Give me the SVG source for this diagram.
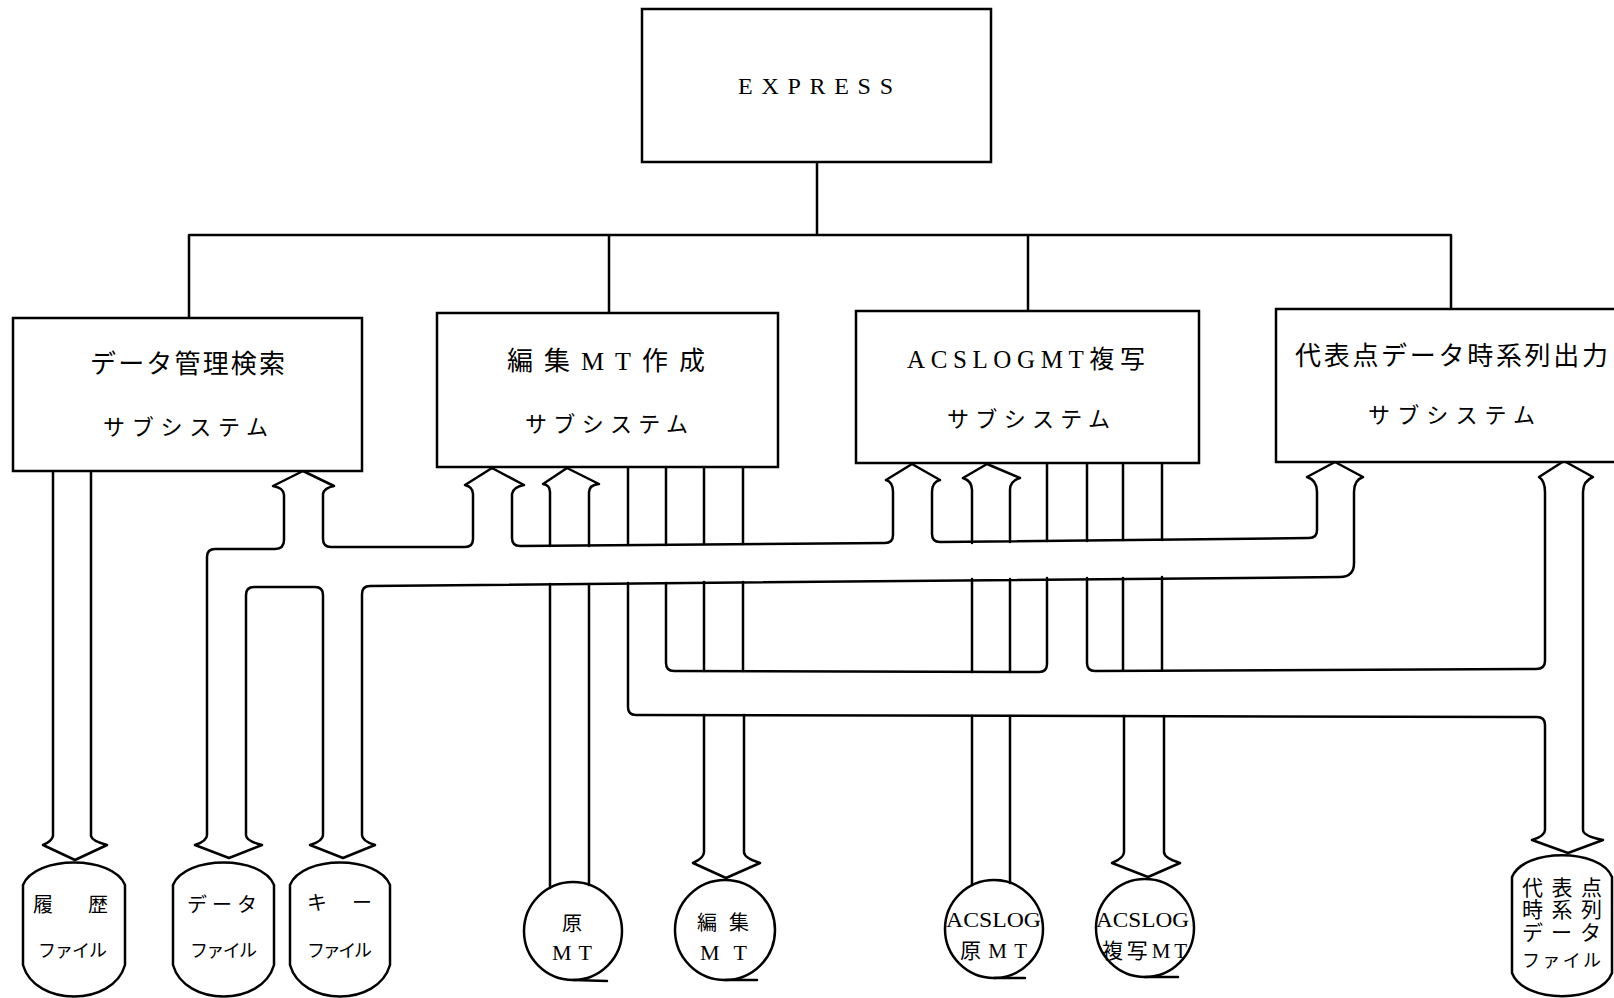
<svg xmlns="http://www.w3.org/2000/svg" width="1614" height="998" viewBox="0 0 1614 998">
<style>
.ln{fill:none;stroke:#000;stroke-width:2.5;stroke-linejoin:round;stroke-linecap:round}
.bx{fill:#fff;stroke:#000;stroke-width:2.5}
.t{font-family:"Liberation Serif","Noto Sans CJK JP",serif;fill:#000}
.j{font-family:"Noto Sans CJK JP",sans-serif;fill:#000}
</style>
<rect width="1614" height="998" fill="#fff"/>
<g id="connectors">
  <!-- tree from EXPRESS -->
  <path class="ln" d="M817,162 L817,235 M189,235 L1451,235 M189,235 L189,318 M609,235 L609,313 M1028,235 L1028,311 M1451,235 L1451,309"/>
  <!-- rireki arrow -->
  <path class="ln" d="M53,472 L53,836 Q52,841 43,845 L75,860 L107,845 Q92,841 91,836 L91,472"/>
  <!-- band 1 outline -->
  <path class="ln" d="M303,471 L273,486 Q284,488 284,495 L284,540 Q284,549 275,549 L215,549 Q207,549 207,557 L207,835 Q207,841 195,845 L229,858 L262,845 Q246,841 246,835 L246,595 Q246,587 254,587 L315,587 Q323,587 323,595 L323,835 Q323,841 310,845 L343,858 L375,845 Q362,841 362,835 L362,594 Q362,586 370,586 L1340,577 Q1354,577 1354,563 L1354,492 Q1354,480 1363,477 L1335,462 L1307,477 Q1317,480 1317,492 L1317,530 Q1317,538 1309,538 L940,542 Q932,542 932,534 L932,492 Q932,482 940,480 L912,464 L886,480 Q893,482 893,492 L893,535 Q893,543 885,543 L520,546 Q512,546 512,538 L512,494 Q513,487 524,485 L492,468 L465,485 Q473,487 473,494 L473,539 Q473,547 465,547 L331,547 Q323,547 323,539 L323,494 Q324,488 334,486 Z"/>
  <!-- box2 arrow B (原MT) -->
  <path class="ln" d="M550,546 L550,492 Q550,485 543,484 L567,468 L599,484 Q589,485 589,492 L589,546"/>
  <path class="ln" d="M550,584 L550,888 M589,584 L589,885"/>
  <!-- box2 verticals -->
  <path class="ln" d="M628,467 L628,545 M666,467 L666,545 M704,467 L704,544 M743,467 L743,544"/>
  <!-- box3 arrow D (ACSLOG原MT) -->
  <path class="ln" d="M972,543 L972,490 Q972,481 963,478 L987,464 L1020,478 Q1010,481 1010,490 L1010,542"/>
  <!-- box3 verticals -->
  <path class="ln" d="M1047,463 L1047,541 M1087,463 L1087,541 M1123,463 L1123,540 M1162,463 L1162,540"/>
  <!-- band 2 -->
  <path class="ln" d="M1087,578 L1087,663 Q1087,671 1095,671 L1536,669 Q1545,669 1545,661 L1545,492 Q1545,481 1539,477 L1564,461 L1593,477 Q1583,481 1583,492 L1583,830 Q1583,836 1603,840 L1568,853 L1532,840 Q1545,836 1545,830 L1545,725 Q1545,717 1537,717 L636,715 Q628,715 628,707 L628,583"/>
  <path class="ln" d="M666,583 L666,663 Q666,671 674,671 L1039,672 Q1047,672 1047,664 L1047,578"/>
  <path class="ln" d="M704,582 L704,671 M743,582 L743,671 M972,579 L972,672 M1010,579 L1010,672 M1123,578 L1123,670 M1162,577 L1162,670"/>
  <!-- below band 2 -->
  <path class="ln" d="M704,715 L704,852 Q704,858 693,863 L726,878 L760,863 Q744,858 744,852 L744,715"/>
  <path class="ln" d="M972,716 L972,885 M1010,716 L1010,883"/>
  <path class="ln" d="M1124,716 L1124,852 Q1124,858 1112,863 L1148,877 L1180,863 Q1164,858 1164,852 L1164,716"/>
</g>
<g id="express">
  <rect class="bx" x="642" y="9" width="349" height="153"/>
  <text class="t" x="738" y="94" font-size="24" textLength="155" lengthAdjust="spacing">EXPRESS</text>
</g>
<g id="sub-data">
  <rect class="bx" x="13" y="318" width="349" height="153"/>
  <text class="t" x="90" y="373" font-size="26" textLength="195" lengthAdjust="spacing">データ管理検索</text>
  <text class="t" x="103" y="435" font-size="22" textLength="165" lengthAdjust="spacing">サブシステム</text>
</g>
<g id="sub-edit">
  <rect class="bx" x="437" y="313" width="341" height="154"/>
  <text class="t" x="507" y="370" font-size="26" textLength="198" lengthAdjust="spacing">編集MT作成</text>
  <text class="t" x="525" y="432" font-size="22" textLength="163" lengthAdjust="spacing">サブシステム</text>
</g>
<g id="sub-acslog">
  <rect class="bx" x="856" y="311" width="343" height="152"/>
  <text class="t" x="907" y="368" font-size="25" textLength="238" lengthAdjust="spacing">ACSLOGMT複写</text>
  <text class="t" x="947" y="427" font-size="22" textLength="163" lengthAdjust="spacing">サブシステム</text>
</g>
<g id="sub-daihyo">
  <rect class="bx" x="1276" y="309" width="360" height="153"/>
  <text class="t" x="1295" y="365" font-size="26" textLength="313" lengthAdjust="spacing">代表点データ時系列出力</text>
  <text class="t" x="1368" y="423" font-size="22" textLength="167" lengthAdjust="spacing">サブシステム</text>
</g>
<g id="file-rireki">
  <path class="ln" d="M23,885 C35,855 113,855 125,885 L125,965 C113,1007 35,1007 23,965 Z"/>
  <text class="t" x="33" y="912" font-size="20" textLength="75" lengthAdjust="spacing">履歴</text>
  <text class="t" x="38" y="957" font-size="18" textLength="69" lengthAdjust="spacing">ファイル</text>
</g>
<g id="file-data">
  <path class="ln" d="M173,885 C185,855 262,855 274,885 L274,965 C262,1007 185,1007 173,965 Z"/>
  <text class="t" x="187" y="912" font-size="20" textLength="70" lengthAdjust="spacing">データ</text>
  <text class="t" x="190" y="957" font-size="18" textLength="67" lengthAdjust="spacing">ファイル</text>
</g>
<g id="file-key">
  <path class="ln" d="M290,885 C302,855 378,855 390,885 L390,965 C378,1007 302,1007 290,965 Z"/>
  <text class="t" x="307" y="910" font-size="20" textLength="65" lengthAdjust="spacing">キー</text>
  <text class="t" x="307" y="957" font-size="18" textLength="65" lengthAdjust="spacing">ファイル</text>
</g>
<g id="mt-gen">
  <circle class="ln" cx="573" cy="931" r="49"/>
  <path class="ln" d="M573,980 L607,981"/>
  <text class="t" x="562" y="931" font-size="20">原</text>
  <text class="t" x="552" y="960" font-size="22" textLength="40" lengthAdjust="spacing">MT</text>
</g>
<g id="mt-edit">
  <circle class="ln" cx="725" cy="930" r="50"/>
  <path class="ln" d="M725,980 L757,980"/>
  <text class="t" x="697" y="930" font-size="20" textLength="52" lengthAdjust="spacing">編集</text>
  <text class="t" x="700" y="960" font-size="22" textLength="47" lengthAdjust="spacing">MT</text>
</g>
<g id="mt-acslog-gen">
  <circle class="ln" cx="994" cy="929" r="49"/>
  <path class="ln" d="M994,978 L1025,978"/>
  <text class="t" x="946" y="927" font-size="22" textLength="95" lengthAdjust="spacingAndGlyphs">ACSLOG</text>
  <text class="t" x="960" y="958" font-size="21" textLength="67" lengthAdjust="spacing">原MT</text>
</g>
<g id="mt-acslog-copy">
  <circle class="ln" cx="1145" cy="928" r="49"/>
  <path class="ln" d="M1145,977 L1178,977"/>
  <text class="t" x="1096" y="927" font-size="22" textLength="93" lengthAdjust="spacingAndGlyphs">ACSLOG</text>
  <text class="t" x="1102" y="958" font-size="21" textLength="85" lengthAdjust="spacing">複写MT</text>
</g>
<g id="file-daihyo">
  <path class="ln" d="M1512,877 C1524,848 1600,848 1612,877 L1612,973 C1600,1004 1524,1004 1512,973 Z"/>
  <text class="t" x="1522" y="895" font-size="21" textLength="80" lengthAdjust="spacing">代表点</text>
  <text class="t" x="1522" y="917" font-size="21" textLength="80" lengthAdjust="spacing">時系列</text>
  <text class="t" x="1522" y="940" font-size="21" textLength="79" lengthAdjust="spacing">データ</text>
  <text class="t" x="1522" y="967" font-size="18" textLength="79" lengthAdjust="spacing">ファイル</text>
</g>
</svg>
